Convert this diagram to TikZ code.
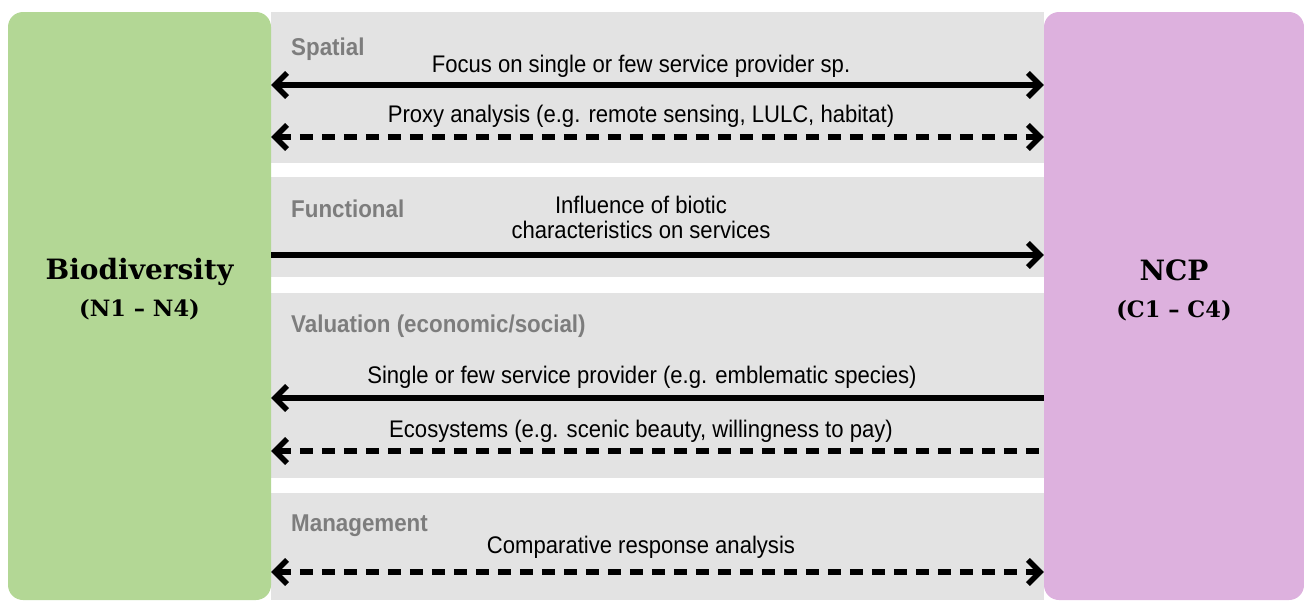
\documentclass[tikz,border=0pt]{standalone}
\usepackage{fontspec}
\setmainfont[FakeStretch=0.92]{Liberation Sans}
\newfontfamily\slab{DejaVu Serif}
\usetikzlibrary{arrows.meta}
\definecolor{biogreen}{RGB}{179,215,149}
\definecolor{ncppink}{RGB}{221,177,222}
\definecolor{bandgray}{RGB}{227,227,227}
\definecolor{catgray}{RGB}{125,125,125}
\tikzset{
  band/.style={fill=bandgray, draw=none},
  bigbox/.style={draw=none, rounded corners=15pt, minimum height=588pt, minimum width=263pt, inner sep=0pt},
  cat/.style={font=\bfseries\fontsize{24.3}{28}\selectfont, text=catgray, anchor=base west, inner sep=0pt},
  lbl/.style={font=\fontsize{24}{28}\selectfont, anchor=base, inner sep=0pt},
  head/.style={font=\slab\bfseries\fontsize{28}{32}\selectfont, anchor=base, inner sep=0pt},
  sub/.style={font=\slab\bfseries\fontsize{22.5}{26}\selectfont, anchor=base, inner sep=0pt},
  link/.style={line width=5.5pt},
  dash link/.style={line width=5.5pt, dash pattern=on 13pt off 9pt},
  tipR/.style={-{Straight Barb[length=12pt, width=24pt]}},
  tipL/.style={{Straight Barb[length=12pt, width=24pt]}-},
  tipLR/.style={{Straight Barb[length=12pt, width=24pt]}-{Straight Barb[length=12pt, width=24pt]}},
}
\begin{document}
\begin{tikzpicture}[x=1pt, y=-1pt]
\useasboundingbox (0,0) rectangle (1304,600);
% bands
\fill[band] (271,12) rectangle (1044,163);
\fill[band] (271,177) rectangle (1044,277);
\fill[band] (271,293) rectangle (1044,478);
\fill[band] (271,493) rectangle (1044,600);
% boxes
\node[bigbox, fill=biogreen] (bio) at (139.5,306) {};
\node[bigbox, fill=ncppink, minimum width=260pt] (ncp) at (1174,306) {};
\node[head] (bioT) at (139.5,279) {Biodiversity};
\node[sub] (bioS) at (139.5,316) {(N1 – N4)};
\node[head] (ncpT) at (1174,280) {NCP};
\node[sub] (ncpS) at (1174,317) {(C1 – C4)};
% categories
\node[cat] (c1) at (291,55) {Spatial};
\node[cat] (c2) at (291,217) {Functional};
\node[cat] (c3) at (291,332) {Valuation (economic/social)};
\node[cat] (c4) at (291,531) {Management};
% labels
\node[lbl] (l1) at (641,72) {Focus on single or few service provider sp.};
\node[lbl] (l2) at (641,122) {Proxy analysis (e.g. remote sensing, LULC, habitat)};
\node[lbl] (l3a) at (641,213) {Influence of biotic};
\node[lbl] (l3b) at (641,238) {characteristics on services};
\node[lbl] (l4) at (642,383) {Single or few service provider (e.g. emblematic species)};
\node[lbl] (l5) at (641,437) {Ecosystems (e.g. scenic beauty, willingness to pay)};
\node[lbl] (l6) at (641,553) {Comparative response analysis};
% arrow ends
\foreach \n/\y in {a/85, b/137, c/255, d/398, e/451, f/572} {
  \coordinate (L\n) at (bio.east |- 0,\y);
  \coordinate (R\n) at (ncp.west |- 0,\y);
}
\draw[link, tipLR] (La) -- (Ra);
\draw[dash link, tipLR] (Lb) -- (Rb);
\draw[link, tipR] (Lc) -- (Rc);
\draw[link, tipL] (Ld) -- (Rd);
\draw[dash link, tipL] (Le) -- (Re);
\draw[dash link, tipLR] (Lf) -- (Rf);
\end{tikzpicture}
\end{document}
